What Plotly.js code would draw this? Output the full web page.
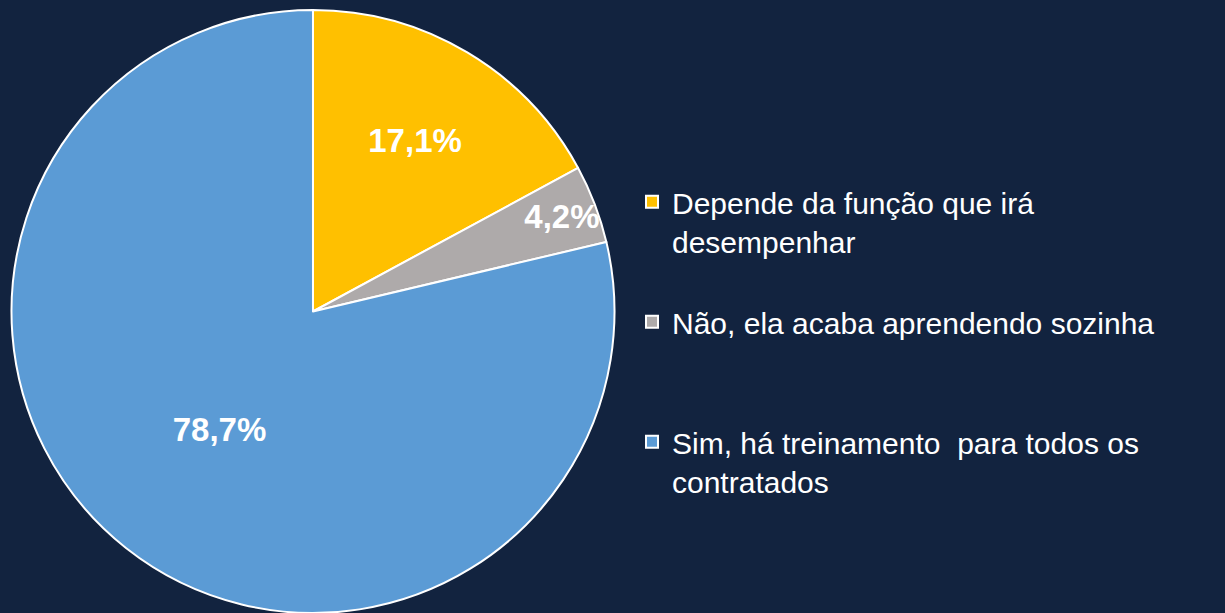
<!DOCTYPE html>
<html><head><meta charset="utf-8">
<script src="https://cdn.plot.ly/plotly-3.0.1.min.js"></script>
<style>html,body{margin:0;padding:0;background:#12233f;}</style>
</head><body><div id="chart" style="width:1225px;height:613px;"></div>
<script>
const categories = ["Depende da função que irá<br>desempenhar<br> ", "Não, ela acaba aprendendo sozinha<br> <br> ", "Sim, há treinamento  para todos os<br>contratados"];
const values = [17.1, 4.2, 78.7];
const colors = ["#ffc000", "#aeaaaa", "#5b9bd5"];
const labelsText = values.map(v => v.toFixed(1).replace('.', ',') + '%');

Plotly.newPlot('chart', [{
  type: 'pie',
  labels: categories,
  values: values,
  text: labelsText,
  textinfo: 'text',
  textposition: 'inside',
  insidetextorientation: 'horizontal',
  sort: false,
  direction: 'clockwise',
  rotation: 0,
  marker: {colors: colors, line: {color: '#ffffff', width: 2}},
  textfont: {family: 'Liberation Sans, Arial, sans-serif', size: 33, color: '#ffffff', weight: 'bold'},
  domain: {x: [0, 0.511], y: [0, 1]},
  hoverinfo: 'none'
}], {
  width: 1225, height: 613,
  paper_bgcolor: '#12233f', plot_bgcolor: '#12233f',
  margin: {l: 0, r: 0, t: 10, b: 0},
  uniformtext: {minsize: 33, mode: 'show'},
  showlegend: true,
  legend: {
    x: 632/1225, xanchor: 'left', y: 0.725, yanchor: 'top',
    valign: 'top',
    font: {family: 'Liberation Sans, Arial, sans-serif', size: 30, color: '#ffffff'},
    bgcolor: 'rgba(0,0,0,0)'
  }
}, {staticPlot: true});
</script></body></html>
